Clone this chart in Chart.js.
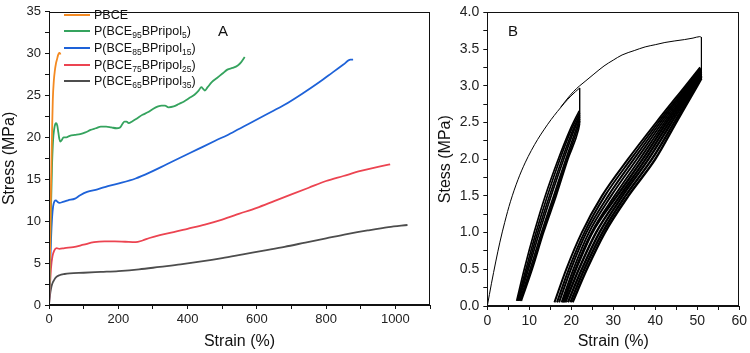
<!DOCTYPE html>
<html><head><meta charset="utf-8">
<script src="https://cdn.jsdelivr.net/npm/chart.js@4.4.0/dist/chart.umd.min.js"></script>
<style>
html,body{margin:0;padding:0;background:#fff;width:750px;height:353px;overflow:hidden;}
#wrap{position:relative;width:750px;height:353px;font-family:"Liberation Sans",Arial,sans-serif;color:#111;}
canvas{position:absolute;top:0;}
#cA{left:0;} #cB{left:436px;}
.row{position:absolute;left:64px;height:16px;display:flex;align-items:center;white-space:nowrap;font-size:12.5px;}
.sw{display:inline-block;width:26px;height:2px;margin-right:4px;}
sub{font-size:8.5px;vertical-align:-3px;line-height:0;}
.letter{position:absolute;font-size:15px;line-height:15px;}
</style></head>
<body><div id="wrap">
<canvas id="cA" width="440" height="353"></canvas>
<canvas id="cB" width="314" height="353"></canvas>
<div id="legend"></div>
<div class="letter" style="left:218px;top:23px;">A</div>
<div class="letter" style="left:508px;top:23px;">B</div>
</div>
<script>
// ---------- Panel A data ----------
const seriesNames = ['PBCE','P(BCE<sub>95</sub>BPripol<sub>5</sub>)','P(BCE<sub>85</sub>BPripol<sub>15</sub>)','P(BCE<sub>75</sub>BPripol<sub>25</sub>)','P(BCE<sub>65</sub>BPripol<sub>35</sub>)'];
const seriesColors = ['#f48a22','#35a35e','#1e62d8','#ec4451','#4d4d4d'];

const pbceStrain = [0,3,5,7,9,11,14,17,20,23,26,29,31,33];
const pbceStress = [0,6,12,17,21,24.5,26.8,28,28.8,29.3,29.8,30.1,30.1,29.9];

const p5Strain = [0,3,6,9,12,15,18,21,24,27,30,33,37,42,50,60,75,90,105,120,135,150,165,180,195,205,212,218,224,230,240,255,270,285,300,315,325,335,345,360,375,390,405,420,432,440,445,450,458,470,485,500,515,530,545,555,565];
const p5Stress = [0,6,12,17,19.8,21.0,21.6,21.7,21.4,20.6,19.8,19.5,19.7,20.0,20.0,20.2,20.3,20.4,20.6,20.9,21.1,21.3,21.3,21.2,21.1,21.2,21.6,21.9,21.9,21.7,21.9,22.3,22.7,23.0,23.4,23.7,23.8,23.8,23.6,23.7,24.0,24.3,24.7,25.1,25.6,26.0,25.8,25.6,26.0,26.6,27.1,27.6,28.1,28.3,28.6,29.0,29.6];

const p15Strain = [0,3,6,9,12,16,20,25,30,40,55,75,90,110,140,170,210,250,290,340,380,430,480,530,580,630,680,730,780,820,850,870,878];
const p15Stress = [0,4,8,10.5,11.8,12.4,12.5,12.3,12.2,12.3,12.5,12.7,13.1,13.5,13.8,14.2,14.6,15.1,15.8,16.8,17.6,18.6,19.6,20.6,21.7,22.8,23.9,25.2,26.6,27.8,28.7,29.3,29.3];

const p25Strain = [0,3,6,10,15,22,30,45,70,100,130,160,190,220,250,270,290,320,360,400,450,500,550,600,650,700,750,800,850,900,950,985];
const p25Stress = [0,2.5,4.5,5.8,6.5,6.8,6.7,6.8,6.9,7.2,7.5,7.6,7.6,7.55,7.5,7.7,8.0,8.35,8.7,9.1,9.6,10.2,10.9,11.6,12.4,13.2,14.0,14.8,15.4,16.0,16.5,16.8];

const p35Strain = [0,3,6,10,15,20,30,45,60,100,150,200,260,320,380,440,500,560,620,680,740,800,860,920,980,1035];
const p35Stress = [0,1.2,2.0,2.6,3.0,3.3,3.55,3.7,3.78,3.85,3.95,4.05,4.25,4.55,4.85,5.2,5.6,6.05,6.5,6.95,7.45,7.95,8.45,8.9,9.3,9.55];

// ---------- Panel B data ----------
const initStrain = [0,1,2,3,4.15,5.5,7.3,9.0,10.5,12.0,13.6,15.2,16.7,18.3,19.9,21.0,22.0];
const initStress = [0,0.31,0.60,0.87,1.14,1.42,1.72,1.95,2.12,2.27,2.41,2.54,2.65,2.76,2.86,2.92,2.97];
const drop1Strain = [22.0,22.0];
const drop1Stress = [2.97,2.49];

const upperStrain = [17.5,19.0,20.5,22.0,23.5,25.4,27.8,30.0,32.1,35.0,37.6,40.0,42.3,44.5,47.0,49.0,50.6,51.0];
const upperStress = [2.71,2.82,2.92,3.0,3.07,3.16,3.27,3.35,3.42,3.48,3.53,3.56,3.59,3.61,3.63,3.65,3.67,3.66];
const drop2Strain = [51.0,51.0];
const drop2Stress = [3.66,3.09];

// small cycles (7.5% <-> 22%): strain at stress levels, last value is the turning point
const smallStress = [0.07,0.5,1.0,1.5,2.0,2.4];
const smallTopStress = [2.66,2.63,2.60,2.58,2.55,2.52,2.49];
const smallLoad1 = [7.0,8.8,11.15,13.8,16.9,19.7,21.9];
const smallLoad2 = [7.2,9.2,11.6,14.3,17.3,20.0,22.0];
const smallLoad3 = [7.35,9.5,12.0,14.8,17.8,20.4,22.0];
const smallLoad4 = [7.5,9.8,12.4,15.2,18.2,20.7,22.0];
const smallUnload1 = [7.7,10.2,12.9,15.8,18.7,21.1,22.0];
const smallUnload2 = [7.9,10.5,13.2,16.1,19.0,21.4,22.0];
const smallUnload3 = [8.1,10.7,13.4,16.4,19.2,21.7,22.0];

// large cycles (~18% <-> 51%)
const bigStress = [0.05,0.5,1.0,1.5,2.0,2.5,3.0];
const bigTopStress = [3.25,3.24,3.23,3.22,3.21,3.19,3.16,3.14,3.12,3.10];
const bigLoad1 = [16.0,18.8,22.5,27.3,33.5,40.2,47.2,50.7];
const bigLoad2 = [16.6,19.4,23.1,28.0,34.2,40.7,47.6,50.75];
const bigLoad3 = [17.1,19.9,23.6,28.8,34.9,41.2,47.9,50.8];
const bigLoad4 = [17.7,20.5,24.2,29.5,35.6,41.7,48.2,50.85];
const bigLoad5 = [18.3,21.0,24.8,30.3,36.3,42.2,48.5,50.9];
const bigUnload1 = [18.0,21.1,25.0,30.9,37.0,42.7,48.8,50.95];
const bigUnload2 = [18.6,21.8,25.9,31.6,37.7,43.3,49.1,50.97];
const bigUnload3 = [19.2,22.5,26.7,32.2,38.4,43.9,49.4,51.0];
const bigUnload4 = [19.8,23.1,27.4,32.9,39.2,44.5,49.7,51.0];
const bigUnload5 = [20.3,23.7,28.0,33.6,40.0,45.0,50.0,51.0];

// ---------- helpers ----------
const FONT = '"Liberation Sans", Arial, sans-serif';
function pts(xs, ys){ return xs.map((x,i)=>({x:x, y:ys[i]})); }
function levelPts(xs, levels, top){ return xs.map((x,i)=>({x:x, y: i<levels.length ? levels[i] : top})); }

const framePlugin = {id:'frame', afterDraw(chart){
  const {ctx, chartArea:a} = chart;
  ctx.save(); ctx.strokeStyle='#111'; ctx.lineWidth=1;
  ctx.strokeRect(Math.round(a.left)+0.5, Math.round(a.top)+0.5, Math.round(a.right-a.left)-1, Math.round(a.bottom-a.top)-1);
  ctx.restore();
}};

// legend
const lg = document.getElementById('legend');
const rowY = [15,31,48,65,81];
seriesNames.forEach((n,i)=>{
  const d = document.createElement('div');
  d.className='row'; d.style.top=(rowY[i]-8)+'px';
  d.innerHTML = '<span class="sw" style="background:'+seriesColors[i]+'"></span><span>'+n+'</span>';
  lg.appendChild(d);
});

function axisX(min,max,step,labelEvery,title,fontSize,h){
  return {type:'linear',min:min,max:max,
    afterFit(s){ s.height=h; },
    grid:{drawOnChartArea:false,drawTicks:true,tickLength:4,color:'#111'},
    border:{color:'#111',width:1},
    ticks:{stepSize:step,autoSkip:false,maxRotation:0,padding:3,color:'#222',font:{family:FONT,size:fontSize},
      callback:(v)=> (Math.abs(v/labelEvery-Math.round(v/labelEvery))<1e-6 ? String(v) : '')},
    title:{display:true,text:title,color:'#111',font:{family:FONT,size:16},padding:{top:0,bottom:2}}
  };
}
function axisY(min,max,step,labelEvery,title,fontSize,w,dec){
  return {type:'linear',min:min,max:max,
    afterFit(s){ s.width=w; },
    grid:{drawOnChartArea:false,drawTicks:true,tickLength:4,color:'#111'},
    border:{color:'#111',width:1},
    ticks:{stepSize:step,autoSkip:false,padding:4,color:'#222',font:{family:FONT,size:fontSize},
      callback:(v)=> (Math.abs(v/labelEvery-Math.round(v/labelEvery))<1e-6 ? v.toFixed(dec) : '')},
    title:{display:true,text:title,color:'#111',font:{family:FONT,size:16},padding:{top:0,bottom:0}}
  };
}

const common = {responsive:false,animation:false,devicePixelRatio:1,
  plugins:{legend:{display:false},tooltip:{enabled:false}},
  elements:{point:{radius:0}}};

// ---------- Chart A ----------
const aSets = [[pbceStrain,pbceStress],[p5Strain,p5Stress],[p15Strain,p15Stress],[p25Strain,p25Stress],[p35Strain,p35Stress]];
new Chart(document.getElementById('cA'), {
  type:'scatter',
  data:{datasets: aSets.map((s,i)=>({data:pts(s[0],s[1]),showLine:true,borderColor:seriesColors[i],borderWidth:1.8,cubicInterpolationMode:'monotone',pointRadius:0}))},
  options:Object.assign({}, common, {
    layout:{padding:{left:0,right:10,top:6.5,bottom:0}},
    scales:{x:axisX(0,1100,100,200,'Strain (%)',13,48), y:axisY(0,35,2.5,5,'Stress (MPa)',13,49,0)}
  }),
  plugins:[framePlugin]
});

// ---------- Chart B ----------
const bDatasets = [];
function addB(data, w, smooth){ bDatasets.push({data:data,showLine:true,borderColor:'#000',borderWidth:w,cubicInterpolationMode: smooth ? 'monotone' : 'default',tension:0,pointRadius:0}); }
addB(pts(initStrain,initStress),1,true);
addB(pts(drop1Strain,drop1Stress),1,false);
addB(pts(upperStrain,upperStress),1,true);
addB(pts(drop2Strain,drop2Stress),1,false);
[smallLoad1,smallLoad2,smallLoad3,smallLoad4].forEach((c,i)=>addB(levelPts(c,smallStress,smallTopStress[i]),1.7,true));
[smallUnload1,smallUnload2,smallUnload3].forEach((c,i)=>addB(levelPts(c,smallStress,smallTopStress[i+4]),1.7,true));
[bigLoad1,bigLoad2,bigLoad3,bigLoad4,bigLoad5].forEach((c,i)=>addB(levelPts(c,bigStress,bigTopStress[i]),2.0,true));
[bigUnload1,bigUnload2,bigUnload3,bigUnload4,bigUnload5].forEach((c,i)=>addB(levelPts(c,bigStress,bigTopStress[i+5]),2.4,true));

new Chart(document.getElementById('cB'), {
  type:'scatter',
  data:{datasets:bDatasets},
  options:Object.assign({}, common, {
    layout:{padding:{left:0,right:8.3,top:6.7,bottom:0}},
    scales:{x:axisX(0,60,5,10,'Strain (%)',14,47), y:axisY(0,4,0.25,0.5,'Stess (MPa)',14,51.3,1)}
  }),
  plugins:[framePlugin]
});
</script>
</body></html>
